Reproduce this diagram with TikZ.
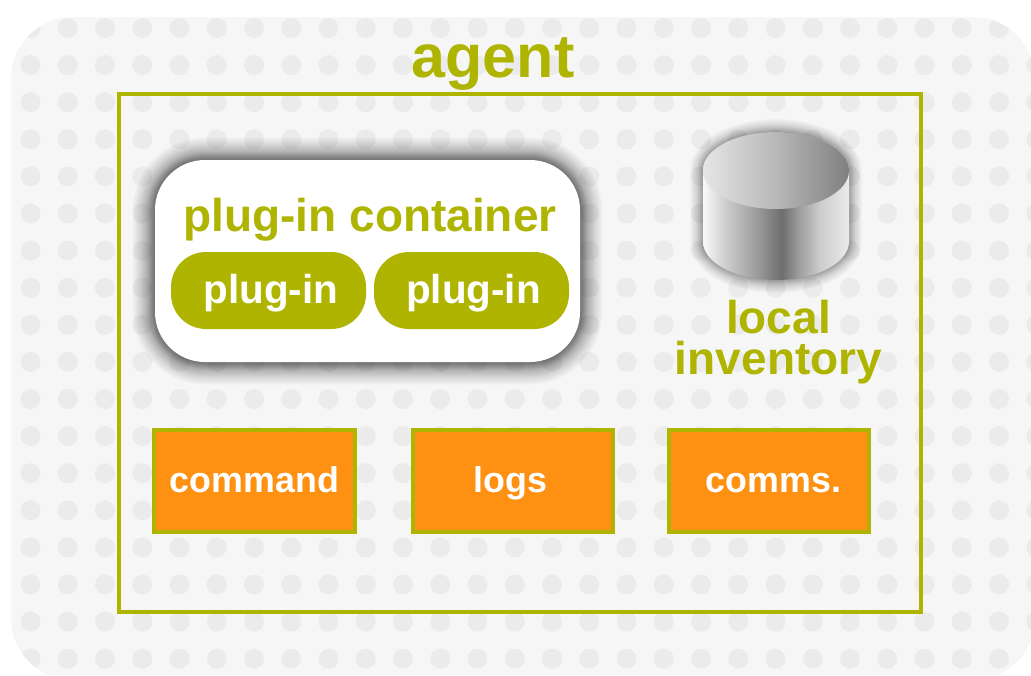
\documentclass[tikz,border=0pt]{standalone}
\usepackage{fontspec}
\setmainfont{Liberation Sans}
\definecolor{olivegreen}{HTML}{AEB400}
\definecolor{orangefill}{HTML}{FF8E0B}
\definecolor{panelgray}{HTML}{F6F6F6}
\definecolor{dotgray}{HTML}{EBEBEB}
\pgfdeclarehorizontalshading{cylside}{100bp}{
  color(0bp)=(white!95!gray);
  color(25bp)=(white!95!gray);
  color(33bp)=(black!20);
  color(43bp)=(black!38);
  color(52bp)=(black!57);
  color(58bp)=(black!38);
  color(65bp)=(black!20);
  color(75bp)=(black!8);
  color(100bp)=(black!8)}
\pgfdeclarehorizontalshading{cyltop}{100bp}{
  color(0bp)=(black!10);
  color(25bp)=(black!10);
  color(50bp)=(black!28);
  color(75bp)=(black!50);
  color(100bp)=(black!50)}
\tikzset{
  greentext/.style={text=olivegreen,font=\bfseries\fontsize{#1}{#1}\selectfont,anchor=base,inner sep=0pt},
  whitetext/.style={text=white,font=\bfseries\fontsize{#1}{#1}\selectfont,anchor=base,inner sep=0pt},
  agentbox/.style={draw=olivegreen,line width=4pt},
  orangebox/.style={draw=olivegreen,fill=orangefill,fill opacity=.97,line width=4pt},
  pill/.style={fill=olivegreen,rounded corners=35pt},
  softshadow/.style={draw=black,opacity=#1,line join=round}
}
\begin{document}
\begin{tikzpicture}[x=1pt,y=-1pt]
\useasboundingbox (0,0) rectangle (1031,675);
\clip (0,0) rectangle (1031,675);
\fill[white] (0,0) rectangle (1031,675);
% panel with dots
\begin{scope}
  \clip[rounded corners=62pt] (11,17) rectangle (1035,680);
  \fill[panelgray] (0,0) rectangle (1031,675);
  \foreach \i in {0,...,27}{
    \foreach \j in {0,...,17}{
      \fill[dotgray] ({30.5+37.25*\i},{28+37.1*\j}) circle[radius=10pt];
    }
  }
\end{scope}
% agent frame
\draw[agentbox] (119,94) rectangle (920.5,611.5);
\node[greentext=61] (agent) at (493,77) {agent};
% container
\foreach \w in {2,3,...,16,18,20,...,30,33,36,...,45}{
  \draw[softshadow=0.025,line width=\w pt,rounded corners=50pt] (155,160) rectangle (580,362);
}
\fill[white,rounded corners=50pt] (155,160) rectangle (580,362);
\node[greentext=46] (pc) at (370,231) {plug-in container};
\fill[pill] (171,252) rectangle (366,329);
\fill[pill] (374,252) rectangle (569,329);
\node[whitetext=40.4] (p1) at (271,303) {plug-in};
\node[whitetext=40.4] (p2) at (473.5,303) {plug-in};
% cylinder
\foreach \w in {1,2,...,12,14,16,...,26}{
  \draw[softshadow=0.018,line width=\w pt]
    (703,170.5) -- (703,241.5) arc[start angle=180,end angle=360,x radius=73pt,y radius=38.5pt]
    -- (849,170.5) arc[start angle=0,end angle=180,x radius=73pt,y radius=38.5pt] -- cycle;
}
\shade[shading=cylside]
    (703,170.5) -- (703,241.5) arc[start angle=180,end angle=360,x radius=73pt,y radius=38.5pt]
    -- (849,170.5) arc[start angle=0,end angle=180,x radius=73pt,y radius=38.5pt] -- cycle;
\shade[shading=cyltop] (776,170.5) ellipse[x radius=73pt,y radius=38.5pt];
\node[greentext=46] (loc1) at (778.5,333) {local};
\node[greentext=46] (loc2) at (778.5,374) {inventory};
% boxes
\path[orangebox] (154,430) rectangle (355,532);
\path[orangebox] (413,430) rectangle (613,532);
\path[orangebox] (669,430) rectangle (869,532);
\node[whitetext=35.8] (c1) at (254.5,492) {command};
\node[whitetext=35.8] (c2) at (510.5,492) {logs};
\node[whitetext=35.8] (c3) at (773.5,492) {comms.};
\end{tikzpicture}
\end{document}
